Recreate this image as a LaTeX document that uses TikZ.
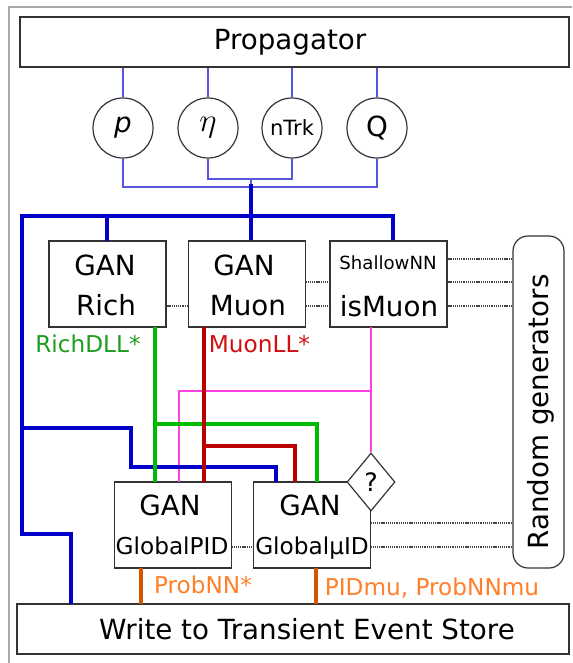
\documentclass[tikz,border=0pt]{standalone}
\usepackage{fontspec}
\setmainfont{DejaVu Sans}
\usetikzlibrary{shapes.geometric}
\definecolor{thinblue}{HTML}{5555DD}
\definecolor{thickblue}{HTML}{0000C8}
\definecolor{lgreen}{HTML}{00BB00}
\definecolor{tgreen}{HTML}{1E9E1E}
\definecolor{lred}{HTML}{BB0000}
\definecolor{tred}{HTML}{D01010}
\definecolor{lorange}{HTML}{D45500}
\definecolor{torange}{HTML}{FF7F2A}
\definecolor{lpink}{HTML}{FF40E0}
\definecolor{boxline}{HTML}{333333}
\definecolor{framegray}{HTML}{A8A8A8}
\definecolor{dotgray}{HTML}{444444}
\begin{document}
\begin{tikzpicture}[x=0.75pt,y=-0.75pt,
  box/.style={draw=boxline,line width=0.9pt,inner sep=0,minimum width=88pt,minimum height=64.5pt},
  wide/.style={draw=boxline,inner sep=0,minimum height=37.5pt},
  var/.style={circle,draw=boxline,line width=0.9pt,inner sep=0,minimum size=45pt,font=\fontsize{20.8pt}{24pt}\selectfont},
  lab/.style={inner sep=0,anchor=base,font=\fontsize{20.8pt}{24pt}\selectfont},
  labm/.style={inner sep=0,anchor=base,font=\fontsize{17.4pt}{20pt}\selectfont},
  labs/.style={inner sep=0,anchor=base,font=\fontsize{13.6pt}{16pt}\selectfont},
  thinb/.style={draw=thinblue,line width=0.9pt},
  thickb/.style={draw=thickblue,line width=3pt},
  gline/.style={draw=lgreen,line width=3pt},
  rline/.style={draw=lred,line width=3.6pt},
  oline/.style={draw=lorange,line width=3pt},
  pinkline/.style={draw=lpink,color=lpink,line width=0.9pt},
  dline/.style={draw=dotgray,line width=0.8pt,dash pattern=on 0.8pt off 0.6pt}]
\useasboundingbox (0,0) rectangle (572,663);
% outer frame
\draw[framegray,line width=1.1pt] (9,663) -- (9,7) -- (572,7);

% boxes
\node[wide,line width=1.5pt,minimum width=411.75pt] (prop) at (294.5,42) {};
\node[lab] (propT) at (290,50) {Propagator};
\node[wide,line width=1.1pt,minimum width=414pt] (write) at (293,629) {};
\node[lab] (writeT) at (307,639) {Write to Transient Event Store};

\node[var] (cp) at (123,128) {\textit{p}};
\node[var] (ceta) at (208,128) {\fontsize{25pt}{28pt}\selectfont$\eta$};
\node[var,font=\fontsize{15.75pt}{18pt}\selectfont] (cn) at (292,128) {nTrk};
\node[var] (cq) at (377,128) {Q};

\node[box,minimum width=87.75pt] (rich) at (107.5,284) {};
\node[lab] (richA) at (105,275) {GAN};
\node[lab] (richB) at (106,315) {Rich};
\node[box] (muon) at (247,284) {};
\node[lab] (muonA) at (244,275) {GAN};
\node[lab] (muonB) at (248,315) {Muon};
\node[box,minimum width=87.75pt] (ismu) at (388.5,284) {};
\node[labs] (ismuA) at (388,269) {ShallowNN};
\node[lab] (ismuB) at (389,316) {isMuon};

\node[box] (gpid) at (173,525) {};
\node[lab] (gpidA) at (170,515) {GAN};
\node[labm] (gpidB) at (172,554) {GlobalPID};
\node[box] (gmu) at (312,525) {};
\node[lab] (gmuA) at (310,515) {GAN};
\node[labm] (gmuB) at (312,554) {GlobalμID};

\node[draw=boxline,line width=0.9pt,rounded corners=11.25pt,inner sep=0,minimum width=38.25pt,minimum height=249pt] (rnd) at (538.5,402) {};
\node[lab,rotate=90] (rndT) at (548,412) {Random generators};

% labels
\node[labm,text=tgreen] (richL) at (88,352) {RichDLL*};
\node[labm,text=tred] (muonL) at (259.5,352) {MuonLL*};
\node[labm,text=torange] (pidL) at (203,593) {ProbNN*};
\node[labm,text=torange] (muL) at (432,595) {PIDmu, ProbNNmu};

% thin blue input lines
\coordinate (jlow) at (251,187);
\coordinate (jhigh) at (251,179);
\coordinate (jmid) at (251,184);
\coordinate (jbot) at (251,216);
\draw[thinb] (prop.south -| cp) -- (cp.north);
\draw[thinb] (prop.south -| ceta) -- (ceta.north);
\draw[thinb] (prop.south -| cn) -- (cn.north);
\draw[thinb] (prop.south -| cq) -- (cq.north);
\draw[thinb] (cp.south) |- (cq |- jlow) -- (cq.south);
\draw[thinb] (ceta.south) |- (cn |- jhigh) -- (cn.south);
\draw[thinb] (jhigh) -- (jmid);

% pink
\coordinate (pk1) at (371,327);
\coordinate (pk2) at (371,391);
\coordinate (pk3) at (179,482);
\node[diamond,draw=boxline,line width=0.9pt,fill=white,inner sep=0,minimum width=36pt,minimum height=43.5pt,font=\fontsize{19pt}{22pt}\selectfont] (dia) at (371,482) {?};
\draw[pinkline] (pk1) -- (dia.north);
\draw[pinkline] (pk2) -| (pk3);

% thick blue
\coordinate (bl1) at (22,216);
\coordinate (bl2) at (22,534);
\coordinate (bl3) at (71,604);
\coordinate (bb1) at (22,428);
\coordinate (bb2) at (131,467);
\coordinate (bb3) at (276,482);
\draw[thickb] (jmid) -- (jbot) -- (jbot |- muon.north);
\draw[thickb] (ismu.north -| 393,0) |- (bl1) -- (bl2) -| (bl3);
\draw[thickb] (107,216) -- (107,241);
\draw[thickb] (bb1) -| (bb2) -| (bb3);

% green
\coordinate (g1) at (155,327);
\coordinate (g2) at (155,482);
\coordinate (g3) at (155,424);
\coordinate (g4) at (317,482);
\draw[gline] (g1) -- (g2);
\draw[gline] (g3) -| (g4);

% red
\coordinate (r1) at (204,327);
\coordinate (r2) at (204,482);
\coordinate (r3) at (204,446);
\coordinate (r4) at (295,482);
\draw[rline] (r1) -- (r2);
\draw[rline] (r3) -| (r4);

% orange
\draw[oline] (141,568) -- (141,604);
\draw[oline] (316,568) -- (316,604);

% dotted links
\draw[dline] (rich.east |- 0,306) -- (muon.west |- 0,306);
\draw[dline] (muon.east |- 0,282) -- (ismu.west |- 0,282);
\draw[dline] (muon.east |- 0,306) -- (ismu.west |- 0,306);
\draw[dline] (ismu.east |- 0,259) -- (rnd.west |- 0,259);
\draw[dline] (ismu.east |- 0,282) -- (rnd.west |- 0,282);
\draw[dline] (ismu.east |- 0,306) -- (rnd.west |- 0,306);
\draw[dline] (gpid.east |- 0,547) -- (gmu.west |- 0,547);
\draw[dline] (gmu.east |- 0,523) -- (rnd.west |- 0,523);
\draw[dline] (gmu.east |- 0,547) -- (rnd.west |- 0,547);
\end{tikzpicture}
\end{document}
